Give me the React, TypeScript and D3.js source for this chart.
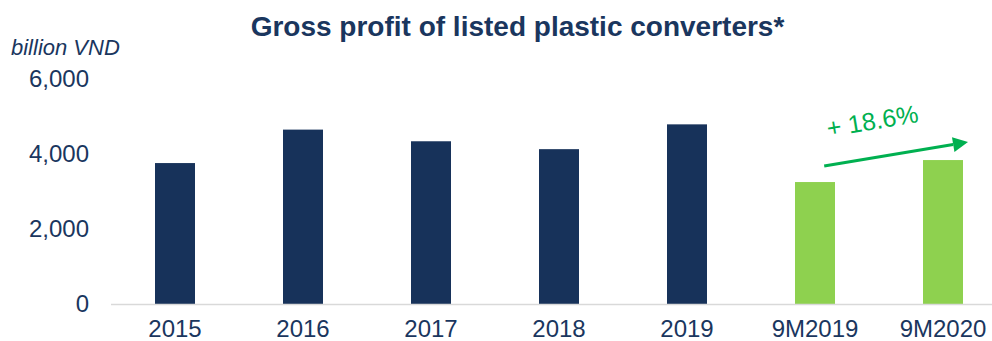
import React from "react";
import * as d3 from "d3";

const categories = ["2015", "2016", "2017", "2018", "2019", "9M2019", "9M2020"];
const values = [3750, 4640, 4330, 4120, 4780, 3245, 3830];
const highlighted = ["9M2019", "9M2020"];
const yTicks = [0, 2000, 4000, 6000];
const growthLabel = "+ 18.6%";

const W = 992;
const H = 341;
const NAVY = "#17325A";
const TEXT = "#1A365E";
const LIGHT_GREEN = "#8ED14F";
const GREEN = "#00B050";
const FONT = "Liberation Sans, Arial, sans-serif";

export default function App() {
  const x = d3
    .scaleBand<string>()
    .domain(categories)
    .range([111, 1007])
    .paddingInner(0.6875)
    .paddingOuter(0.34375);
  const y = d3.scaleLinear().domain([0, 6000]).range([304, 78.5]);
  const fmt = d3.format(",");
  const bw = x.bandwidth();

  const a0x = (x("9M2019") as number) + bw * 0.73;
  const a0y = y(values[5]) - 16;
  const a1x = (x("9M2020") as number) + bw + 5;
  const a1y = y(values[6]) - 18;
  const ang = Math.atan2(a1y - a0y, a1x - a0x);
  const headLen = 15;
  const headHalf = 7.5;
  const bx = a1x - headLen * Math.cos(ang);
  const by = a1y - headLen * Math.sin(ang);
  const px = -Math.sin(ang);
  const py = Math.cos(ang);
  const head = `${a1x},${a1y} ${bx + px * headHalf},${by + py * headHalf} ${bx - px * headHalf},${by - py * headHalf}`;
  const deg = (ang * 180) / Math.PI;

  return (
    <div style={{ position: "absolute", left: 0, top: 0 }}>
      <svg width={W} height={H} style={{ display: "block", fontFamily: FONT }}>
        <rect width={W} height={H} fill="#fff" />
        <text x={517.5} y={36} textAnchor="middle" fontSize={28} fontWeight="bold" fill={TEXT}>
          Gross profit of listed plastic converters*
        </text>
        <text x={11} y={55} fontSize={22} fontStyle="italic" fill={TEXT}>
          billion VND
        </text>
        {yTicks.map((t) => (
          <text key={t} x={89} y={y(t)} dy="0.35em" textAnchor="end" fontSize={24} fill={TEXT}>
            {fmt(t)}
          </text>
        ))}
        {categories.map((c, i) => (
          <rect
            key={c}
            x={x(c)}
            y={y(values[i])}
            width={bw}
            height={y(0) - y(values[i])}
            fill={highlighted.includes(c) ? LIGHT_GREEN : NAVY}
          />
        ))}
        <line x1={111} x2={992} y1={y(0) + 0.5} y2={y(0) + 0.5} stroke="#D9D9D9" strokeWidth={1.5} />
        {categories.map((c) => (
          <text
            key={c}
            x={(x(c) as number) + bw / 2}
            y={337}
            textAnchor="middle"
            fontSize={24}
            fill={TEXT}
          >
            {c}
          </text>
        ))}
        <line x1={a0x} y1={a0y} x2={bx} y2={by} stroke={GREEN} strokeWidth={3} />
        <polygon points={head} fill={GREEN} />
        <text
          x={0}
          y={0}
          fontSize={25}
          fill={GREEN}
          transform={`translate(${a0x + 4},${a0y - 29}) rotate(${deg})`}
        >
          {growthLabel}
        </text>
      </svg>
    </div>
  );
}
